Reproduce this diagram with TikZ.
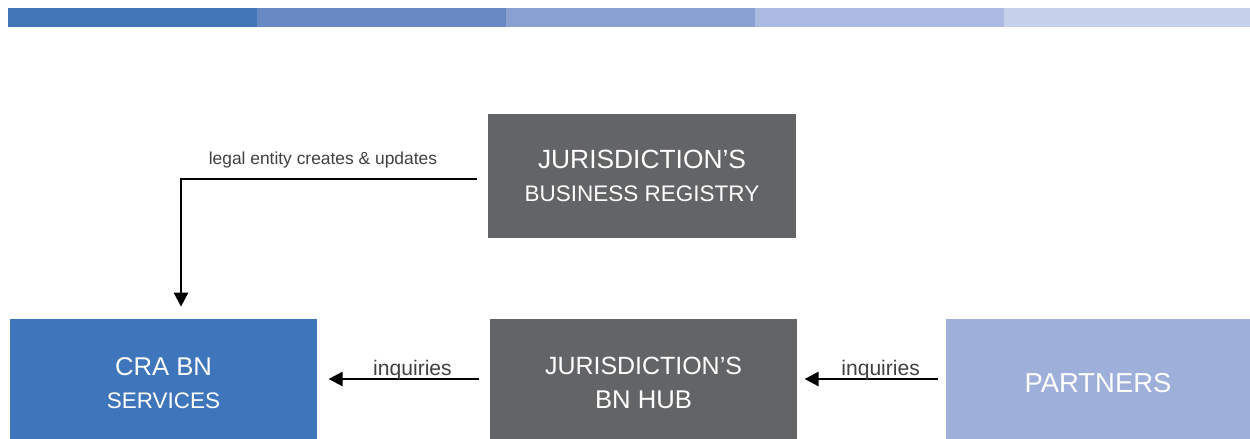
\documentclass[tikz,border=0pt]{standalone}
\usepackage{fontspec}
\setmainfont{Liberation Sans}
\usetikzlibrary{arrows.meta}

\definecolor{barA}{HTML}{4176B9}
\definecolor{barB}{HTML}{6889C4}
\definecolor{barC}{HTML}{88A1D0}
\definecolor{barD}{HTML}{ABBAE0}
\definecolor{barE}{HTML}{C5D0EA}
\definecolor{craBlue}{HTML}{3F75BA}
\definecolor{hubGray}{HTML}{636466}
\definecolor{partBlue}{HTML}{9EAFDA}
\definecolor{labGray}{HTML}{404040}

\newcommand{\boxbig}{\fontsize{14.6}{19}\selectfont}
\newcommand{\boxsml}{\fontsize{12.8}{19}\selectfont}

\tikzset{
  box/.style={minimum width=6.15cm,minimum height=2.4cm,inner sep=0pt,
    text=white,align=center,font=\boxbig},
  flow/.style={line width=1.6pt,-{Triangle[length=8pt,width=8pt]}},
  lab/.style={text=labGray,inner sep=2pt}
}

\begin{document}
\begin{tikzpicture}
\useasboundingbox (0,0) rectangle (25,-8.78);
% colour strip along the top
\foreach \c [count=\i from 0] in {barA,barB,barC,barD,barE}
  \fill[\c] (0.16+4.98*\i,-0.16) rectangle (0.16+4.98*\i+4.98,-0.54);
\path
(12.84,-3.52) node[box,fill=hubGray,minimum width=6.16cm,minimum height=2.48cm] (reg) {\fontsize{15}{19}\selectfont JURISDICTION'S\\\boxsml BUSINESS REGISTRY}
(3.27,-7.66) node[box,fill=craBlue,minimum height=2.56cm] (cra) {CRA BN\\\boxsml SERVICES}
(12.87,-7.66) node[box,fill=hubGray,minimum height=2.56cm] (hub) {\fontsize{14.2}{19}\selectfont JURISDICTION'S\\BN HUB}
(21.96,-7.66) node[box,fill=partBlue,minimum width=6.08cm,minimum height=2.56cm,font=\fontsize{15.6}{19}\selectfont] (part) {PARTNERS};
\draw[flow] ([xshift=-.22cm,yshift=-.06cm]reg.west)
  -| node[lab,pos=.26,above,yshift=.12cm,xshift=0cm,font=\fontsize{9.9}{12}\selectfont] {legal entity creates \& updates}
  ([xshift=.35cm,yshift=.24cm]cra.north);
\draw[flow] ([xshift=-.2cm,yshift=.08cm]hub.west) -- node[lab,above,xshift=.17cm,yshift=-.12cm,font=\fontsize{12}{14}\selectfont] {inquiries} ([xshift=.22cm,yshift=.08cm]cra.east);
\draw[flow] ([xshift=-.16cm,yshift=.08cm]part.west) -- node[lab,above,xshift=.19cm,yshift=-.12cm,font=\fontsize{12}{14}\selectfont] {inquiries} ([xshift=.14cm,yshift=.08cm]hub.east);
\end{tikzpicture}
\end{document}
